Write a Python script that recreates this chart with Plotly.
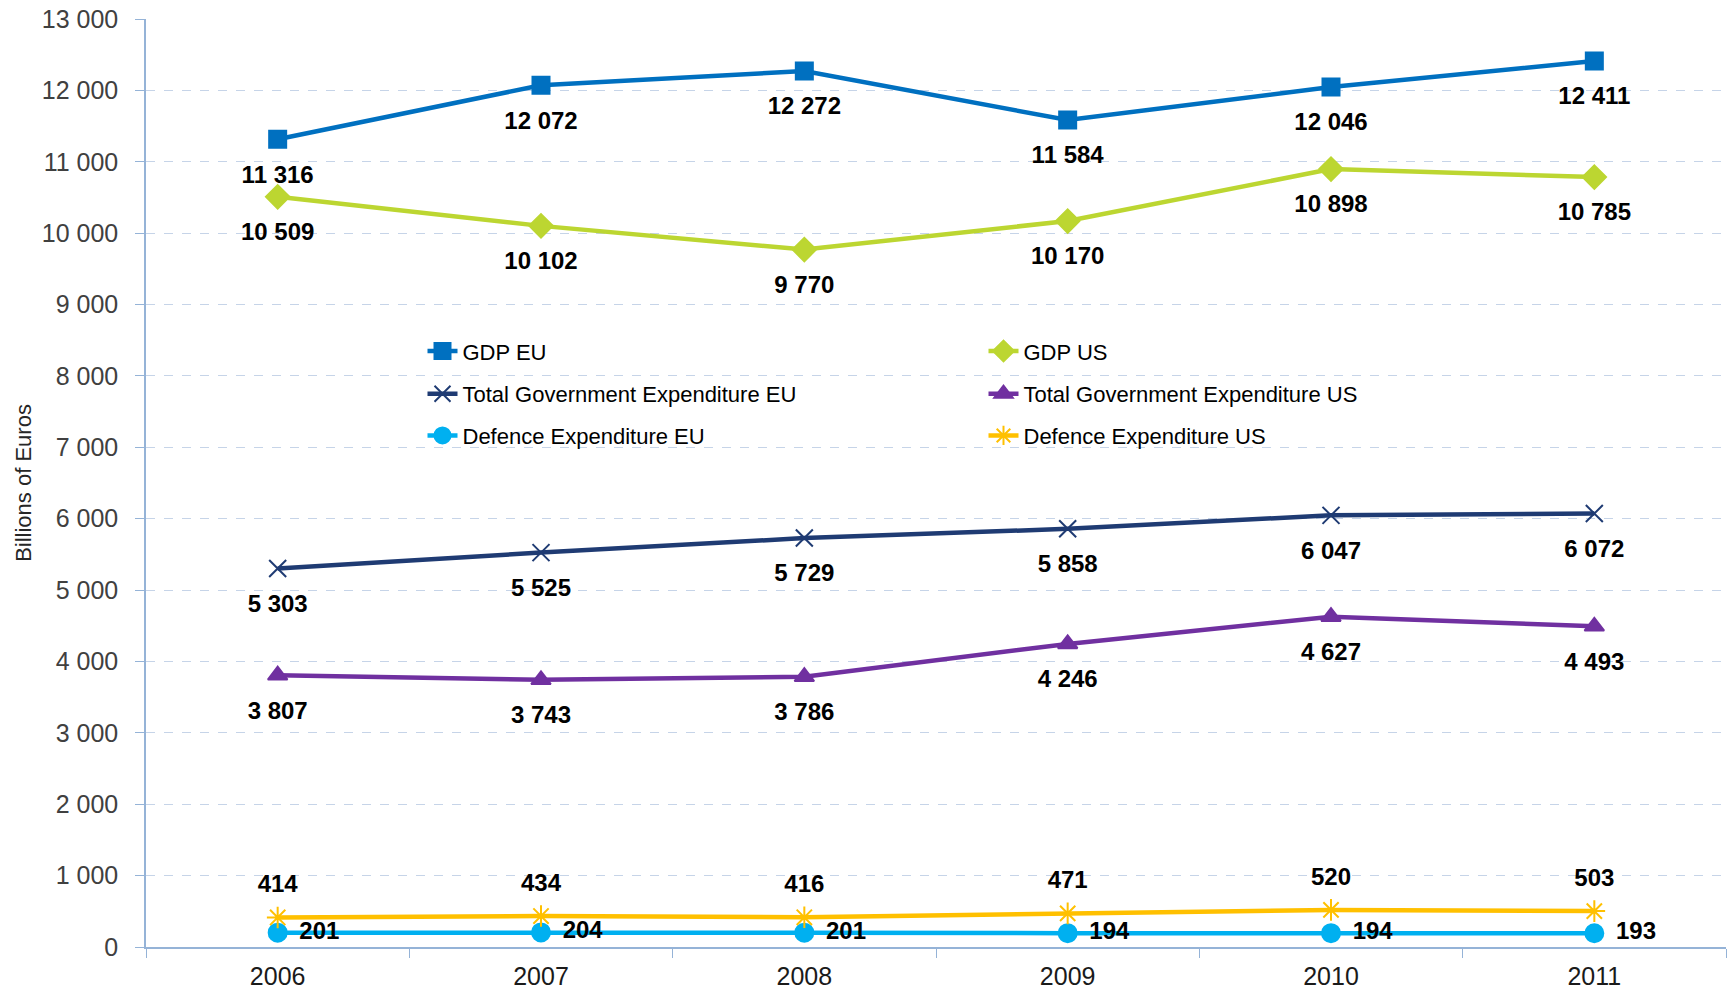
import plotly.graph_objects as go

years = ["2006", "2007", "2008", "2009", "2010", "2011"]

gdp_eu = [11316, 12072, 12272, 11584, 12046, 12411]
gdp_us = [10509, 10102, 9770, 10170, 10898, 10785]
tge_eu = [5303, 5525, 5729, 5858, 6047, 6072]
tge_us = [3807, 3743, 3786, 4246, 4627, 4493]
def_eu = [201, 204, 201, 194, 194, 193]
def_us = [414, 434, 416, 471, 520, 503]

FONT = "Liberation Sans, Arial, sans-serif"
AXIS_COL = "#95B3D7"
GRID_COL = "#C6D4E8"

# name, values, colour, marker symbol, marker size, legend, label placement
series = [
    ("GDP EU", gdp_eu, "#0070C0", "square", 17, "legend", "bottom center"),
    ("GDP US", gdp_us, "#BCD631", "diamond", 18, "legend", "bottom center"),
    ("Total Government Expenditure EU", tge_eu, "#1F3B73", "x-thin-open", 17, "legend2", "bottom center"),
    ("Total Government Expenditure US", tge_us, "#7030A0", "triangle-up", 17, "legend2", "bottom center"),
    ("Defence Expenditure EU", def_eu, "#00B0F0", "circle", 18, "legend3", "middle right"),
    ("Defence Expenditure US", def_us, "#FFC000", "asterisk-open", 18, "legend3", "top center"),
]
# invisible marker size used only to push the value labels away from the points
label_pad = {"bottom center": 39, "top center": 29, "middle right": 33}


def fmt(v):
    return "<b>" + f"{v:,}".replace(",", " ") + "</b>"


fig = go.Figure()
for name, vals, col, sym, size, leg, _ in series:
    fig.add_trace(go.Scatter(
        x=years, y=vals, name=name, mode="lines+markers",
        line=dict(color=col, width=4.5),
        marker=dict(symbol=sym, size=size, color=col, line=dict(color=col, width=2)),
        legend=leg,
    ))

for name, vals, col, sym, size, leg, pos in series:
    fig.add_trace(go.Scatter(
        x=years, y=vals, mode="markers+text", showlegend=False, hoverinfo="skip",
        marker=dict(size=label_pad[pos], color="rgba(0,0,0,0)"),
        text=[fmt(v) for v in vals], textposition=pos,
        textfont=dict(family=FONT, size=24, color="black"),
    ))

legend_common = dict(
    orientation="h", xanchor="left", yanchor="middle", x=0.175,
    entrywidth=516, bgcolor="rgba(0,0,0,0)",
    font=dict(family=FONT, size=22, color="black"),
)

fig.update_layout(
    width=1729, height=992,
    margin=dict(l=146, r=3, t=19, b=45, autoexpand=False),
    plot_bgcolor="white", paper_bgcolor="white",
    separators=". ",
    font=dict(family=FONT, color="#404040"),
    legend=dict(y=0.642, **legend_common),
    legend2=dict(y=0.596, **legend_common),
    legend3=dict(y=0.551, **legend_common),
    xaxis=dict(
        type="category", range=[-0.5, 5.5], automargin=False,
        showline=True, linecolor=AXIS_COL, linewidth=1.5,
        ticks="outside", tickson="boundaries", ticklen=9, tickcolor=AXIS_COL,
        showgrid=False, ticklabelstandoff=6,
        tickfont=dict(family=FONT, size=25, color="#1a1a1a"),
    ),
    yaxis=dict(
        range=[0, 13000], dtick=1000, tickformat=",d", automargin=False,
        showline=True, linecolor=AXIS_COL, linewidth=1.5,
        ticks="outside", ticklen=9, tickcolor=AXIS_COL,
        showgrid=True, gridcolor=GRID_COL, griddash="dash", gridwidth=1,
        zeroline=False, ticklabelstandoff=12, ticklabeloverflow="allow",
        tickfont=dict(family=FONT, size=25, color="#404040"),
        title=dict(text="Billions of Euros", standoff=4,
                   font=dict(family=FONT, size=22, color="#262626")),
    ),
)

# drop the browser's default 8px body margin so the figure fills the window
fig.write_html("out.html", config={"displayModeBar": False},
               post_script="document.body.style.margin = '0';")
